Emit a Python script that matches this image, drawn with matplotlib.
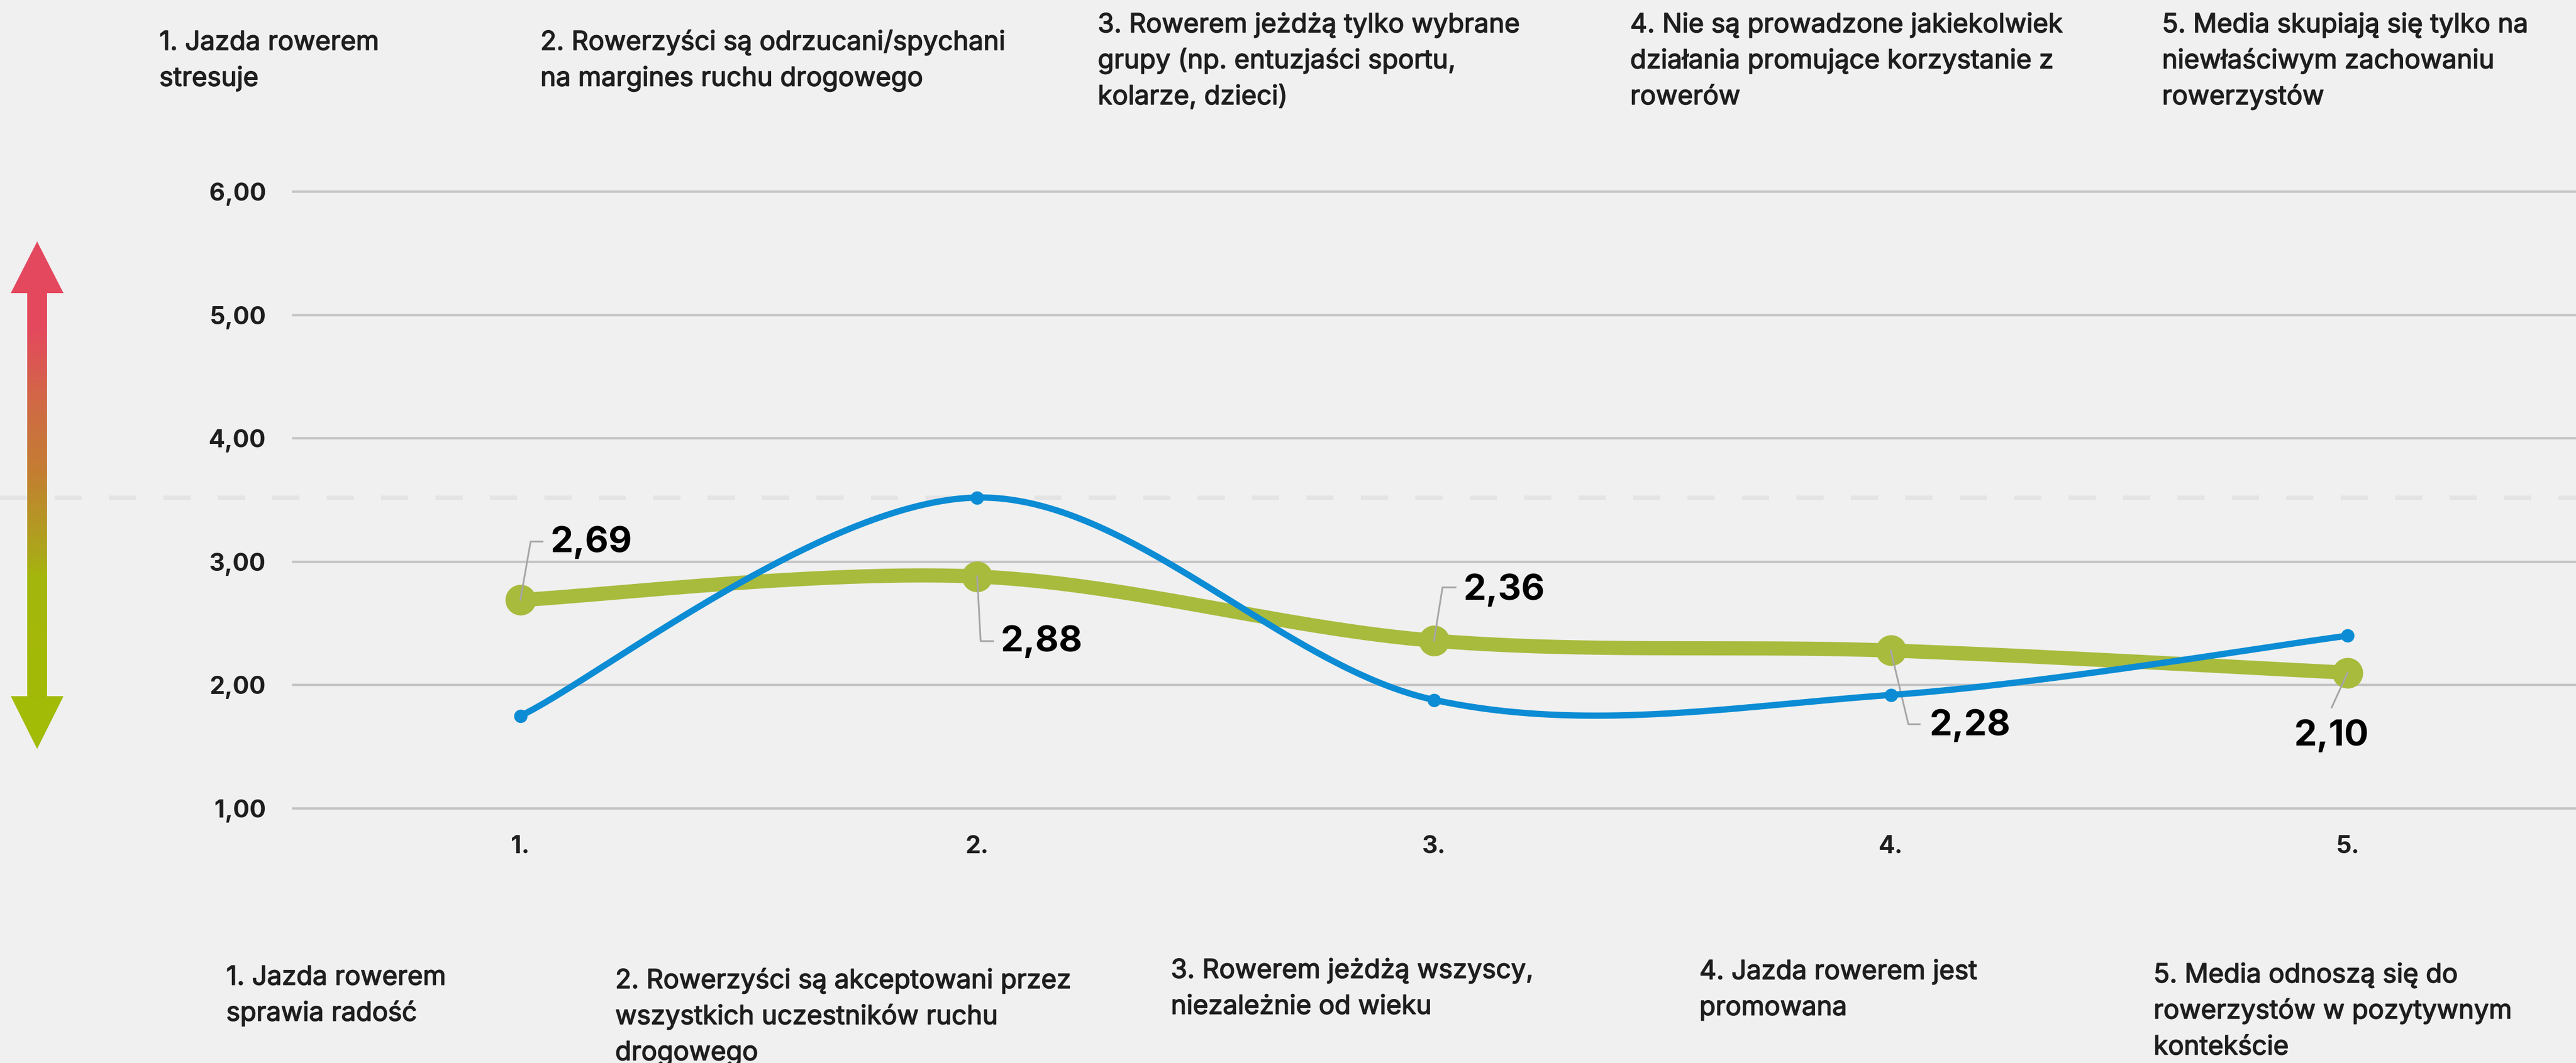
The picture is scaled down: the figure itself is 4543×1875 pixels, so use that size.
import numpy as np
import matplotlib
matplotlib.use("Agg")
import matplotlib.pyplot as plt
from matplotlib import transforms as mtransforms
from matplotlib import patheffects
from matplotlib.colors import LinearSegmentedColormap
from matplotlib.patches import Polygon

W, H = 4543, 1875
DPI = 100

POSITIONS = [1, 2, 3, 4, 5]
X_LABELS = ["1.", "2.", "3.", "4.", "5."]
Y_TICKS = [1, 2, 3, 4, 5, 6]
Y_LABELS = ["1,00", "2,00", "3,00", "4,00", "5,00", "6,00"]

green_values = [2.69, 2.88, 2.36, 2.28, 2.10]
green_labels = ["2,69", "2,88", "2,36", "2,28", "2,10"]
blue_values = [1.75, 3.52, 1.88, 1.92, 2.40]
ref_level = 3.52

top_texts = [
    "1. Jazda rowerem\nstresuje",
    "2. Rowerzyści są odrzucani/spychani\nna margines ruchu drogowego",
    "3. Rowerem jeżdżą tylko wybrane\ngrupy (np. entuzjaści sportu,\nkolarze, dzieci)",
    "4. Nie są prowadzone jakiekolwiek\ndziałania promujące korzystanie z\nrowerów",
    "5. Media skupiają się tylko na\nniewłaściwym zachowaniu\nrowerzystów",
]
bottom_texts = [
    "1. Jazda rowerem\nsprawia radość",
    "2. Rowerzyści są akceptowani przez\nwszystkich uczestników ruchu\ndrogowego",
    "3. Rowerem jeżdżą wszyscy,\nniezależnie od wieku",
    "4. Jazda rowerem jest\npromowana",
    "5. Media odnoszą się do\nrowerzystów w pozytywnym\nkontekście",
]

BG = "#f0f0f0"
GREEN = "#a8bb3d"
BLUE = "#0b8cd4"
GRID = "#c4c4c4"
LEADER = "#a6a6a6"
TXT = "#1e1e1e"

plt.rcParams["font.family"] = ["Inter", "Noto Sans", "DejaVu Sans"]


def smooth(xs, ys, n=80):
    # bezier smoothing through the points, like spreadsheet "smoothed line"
    pts = np.column_stack([xs, ys]).astype(float)
    p = np.vstack([pts[0], pts, pts[-1]])
    out = []
    t = np.linspace(0, 1, n)[:, None]
    for i in range(len(pts) - 1):
        p0, p1, p2, p3 = p[i], p[i + 1], p[i + 2], p[i + 3]
        c1 = p1 + (p2 - p0) / 6
        c2 = p2 - (p3 - p1) / 6
        seg = (1 - t) ** 3 * p1 + 3 * (1 - t) ** 2 * t * c1 + 3 * (1 - t) * t ** 2 * c2 + t ** 3 * p2
        out.append(seg if i == 0 else seg[1:])
    seg = np.vstack(out)
    return seg[:, 0], seg[:, 1]


def fx(x):
    return x / W


def fy(y):
    return 1 - y / H


fig = plt.figure(figsize=(W / DPI, H / DPI), dpi=DPI, facecolor=BG)

ax_left, ax_top, ax_bottom = 515, 338, 1426
ax = fig.add_axes([fx(ax_left), fy(ax_bottom), 1 - fx(ax_left), (ax_bottom - ax_top) / H], zorder=1)
ax.set_facecolor("none")
ax.set_xlim(0.5, 5.5)
ax.set_ylim(1, 6)
for s in ax.spines.values():
    s.set_visible(False)

ax.hlines(Y_TICKS, 0.5, 5.5, color=GRID, lw=3, clip_on=False, zorder=1)

# dashed reference line across the full width
blend = mtransforms.blended_transform_factory(fig.transFigure, ax.transData)
ax.plot([0, 1], [ref_level, ref_level], transform=blend, color="#e4e4e4", lw=5.4,
        dashes=(6.4, 6.4), clip_on=False, zorder=0)

gx, gy = smooth(POSITIONS, green_values)
ax.plot(gx, gy, color=GREEN, lw=18, solid_capstyle="round", clip_on=False, zorder=3)
ax.plot(POSITIONS, green_values, "o", color=GREEN, ms=39, mew=0, clip_on=False, zorder=3)

bx, by = smooth(POSITIONS, blue_values)
ax.plot(bx, by, color=BLUE, lw=8, solid_capstyle="round", clip_on=False, zorder=5)
ax.plot(POSITIONS, blue_values, "o", color=BLUE, ms=17, mew=0, clip_on=False, zorder=5)

ax.set_yticks(Y_TICKS)
ax.set_yticklabels(Y_LABELS)
ax.set_xticks(POSITIONS)
ax.set_xticklabels(X_LABELS)
ax.tick_params(axis="y", length=0, pad=33, labelsize=31, labelcolor=TXT)
ax.tick_params(axis="x", length=0, pad=34, labelsize=31, labelcolor=TXT)
for lab in ax.get_yticklabels() + ax.get_xticklabels():
    lab.set_fontweight("bold")

# data labels with leader lines (offsets in pixels, y up)
label_offsets = [
    # knee, end of leader, text anchor, text alignment
    ((18, 103), (39, 103), (53, 101), "left"),
    ((6, -114), (28, -114), (41, -116), "left"),
    ((15, 94), (38, 94), (52, 89), "left"),
    ((31, -130), (51, -130), (68, -133), "left"),
    ((-28, -61), None, (-29, -112), "center"),
]
fig.canvas.draw()
for xv, yv, txt, (knee, end, tpos, ha) in zip(POSITIONS, green_values, green_labels, label_offsets):
    px, py = ax.transData.transform((xv, yv))
    base = mtransforms.Affine2D().translate(px, py)
    lx = [0, knee[0]] + ([end[0]] if end else [])
    ly = [0, knee[1]] + ([end[1]] if end else [])
    ax.plot(lx, ly, color=LEADER, lw=2.2, transform=base, clip_on=False, zorder=4)
    ax.text(tpos[0], tpos[1], txt, transform=base, ha=ha, va="center", fontsize=46,
            fontweight="bold", color="black", zorder=6)

# gradient arrow on the left
ov = fig.add_axes([0, 0, 1, 1], zorder=3)
ov.set_xlim(0, W)
ov.set_ylim(H, 0)
ov.axis("off")
ov.patch.set_alpha(0)

cx, half_shaft, half_head = 65.5, 17.5, 46.5
tip_top, base_top, base_bot, tip_bot = 426, 517, 1228, 1321
arrow = Polygon([
    (cx, tip_top), (cx + half_head, base_top), (cx + half_shaft, base_top),
    (cx + half_shaft, base_bot), (cx + half_head, base_bot), (cx, tip_bot),
    (cx - half_head, base_bot), (cx - half_shaft, base_bot), (cx - half_shaft, base_top),
    (cx - half_head, base_top)], closed=True, facecolor="none", edgecolor="none")
ov.add_patch(arrow)
cmap = LinearSegmentedColormap.from_list("stress", [
    (0.0, "#e5485f"), (0.17, "#e4495d"), (0.33, "#cf6c44"), (0.45, "#c47d33"),
    (0.62, "#aba81a"), (0.66, "#a4b60c"), (1.0, "#a2bd05")])
grad = np.linspace(0, 1, 512)[:, None]
im = ov.imshow(grad, cmap=cmap, aspect="auto", origin="upper",
               extent=(cx - half_head, cx + half_head, tip_bot, tip_top), zorder=2)
im.set_clip_path(arrow)

# category descriptions, one text per line so the baselines sit where they should
LINE_STEP = 63.5
heavier = [patheffects.withStroke(linewidth=1.1, foreground=TXT)]


def text_block(x, first_base, s):
    for i, line in enumerate(s.split("\n")):
        fig.text(fx(x), fy(first_base + i * LINE_STEP), line, ha="left", va="baseline",
                 fontsize=33.5, color=TXT, path_effects=heavier)


top_x = [281, 953, 1936, 2875, 3813]
top_base = [88, 88, 57, 57, 57]
for x, y, s in zip(top_x, top_base, top_texts):
    text_block(x, y, s)

bot_x = [399, 1085, 2065, 2997, 3798]
bot_base = [1737, 1743, 1725, 1727, 1733]
for x, y, s in zip(bot_x, bot_base, bottom_texts):
    text_block(x, y, s)

fig.savefig("out.png", dpi=DPI, facecolor=BG)
